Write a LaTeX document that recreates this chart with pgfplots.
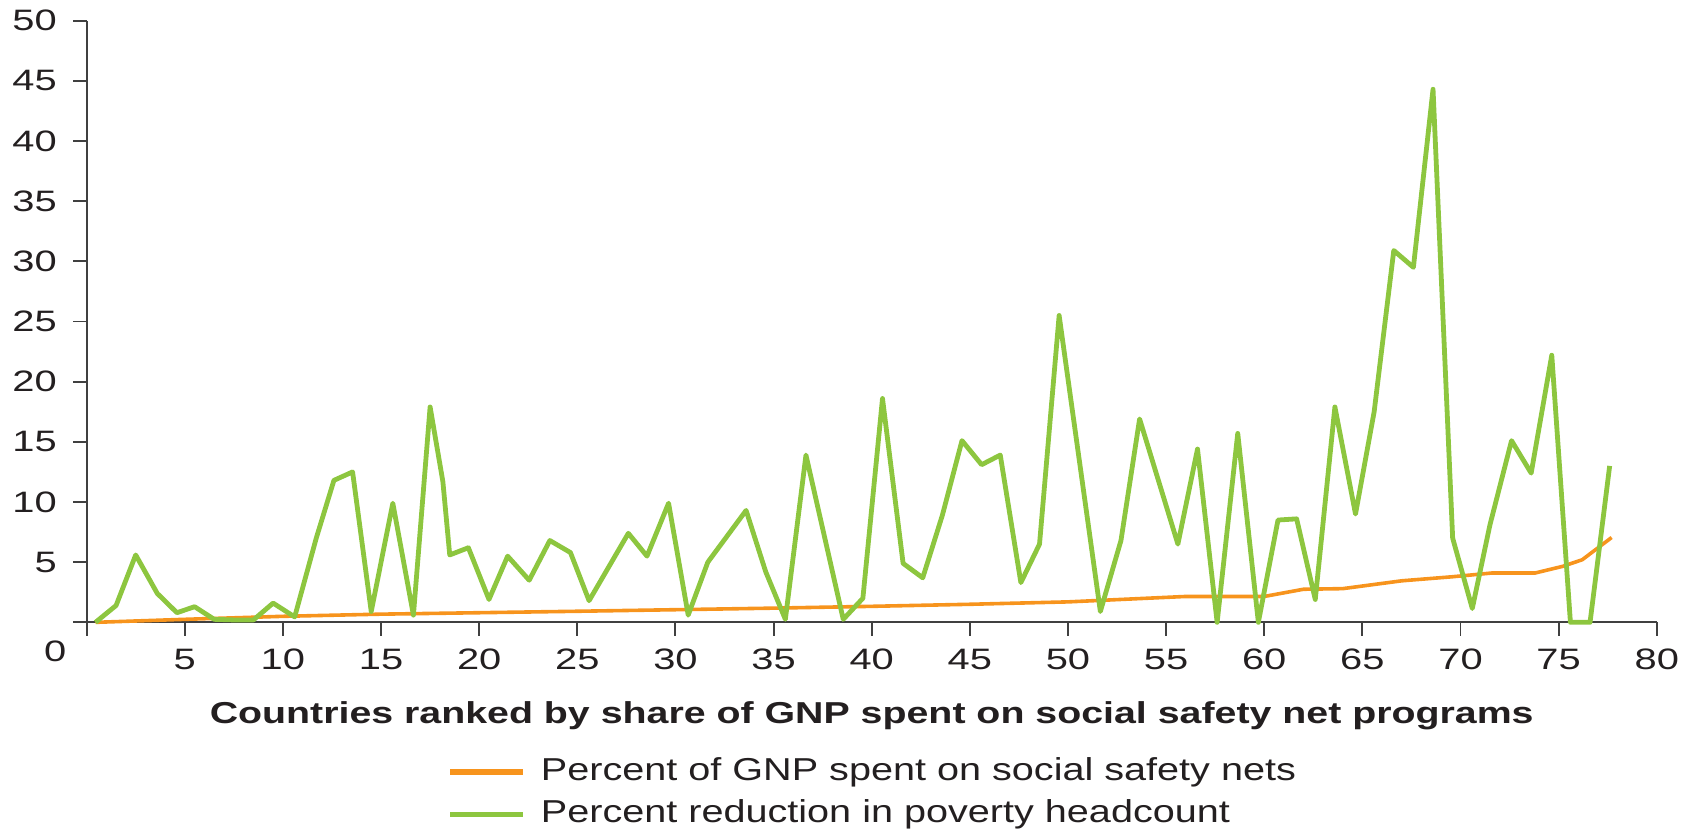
\documentclass[border=0pt]{standalone}
\usepackage{fontspec}
\setmainfont{Liberation Sans}
\usepackage{graphicx}
\usepackage{pgfplots}
\pgfplotsset{compat=1.18}
\definecolor{sgreen}{RGB}{141,198,63}
\definecolor{sorange}{RGB}{247,148,29}
\definecolor{axgray}{RGB}{64,64,64}
\definecolor{txt}{RGB}{35,31,32}
\newcommand\wt[1]{\scalebox{1.35}[1]{#1}}
\newcommand\wl[1]{\scalebox{1.3}[1]{#1}}
\newcommand\wg[1]{\scalebox{1.25}[1]{#1}}
\begin{document}
\begin{tikzpicture}
\begin{axis}[
  scale only axis, width=654.2pt, height=250.7pt,
  xmin=0, xmax=80, ymin=0, ymax=50,
  clip=false,
  axis lines*=left,
  axis line style={line width=0.8pt, axgray},
  tick style={line width=0.8pt, axgray},
  tick align=outside, major tick length=5.5pt,
  xtick={0,5,...,80}, ytick={0,5,...,50},
  xticklabels={{},\wt{5},\wt{10},\wt{15},\wt{20},\wt{25},\wt{30},\wt{35},\wt{40},\wt{45},\wt{50},\wt{55},\wt{60},\wt{65},\wt{70},\wt{75},\wt{80}},
  yticklabels={{},\wt{5},\wt{10},\wt{15},\wt{20},\wt{25},\wt{30},\wt{35},\wt{40},\wt{45},\wt{50}},
  ticklabel style={font=\fontsize{12.3}{14}\selectfont, text=txt, inner sep=0pt},
  xticklabel style={anchor=north},
  yticklabel style={anchor=east},
  xticklabel shift=5.5pt,
  yticklabel shift=6.75pt,
  xlabel={\wl{Countries ranked by share of GNP spent on social safety net programs}},
  xlabel style={font=\fontsize{12.6}{15}\selectfont\bfseries, text=txt, at={(axis description cs:0.5,0)}, anchor=base, yshift=-42.3pt, inner sep=0pt},
  legend style={draw=none, fill=none, at={(axis description cs:0.5,0)}, anchor=north, yshift=-56.0pt,
    inner sep=0pt, font=\fontsize{13.2}{16}\selectfont, text=txt, column sep=6.25pt, row sep=5.2pt,
    nodes={inner sep=0pt, text height=9.6pt, text depth=2.8pt}},
  legend cell align=left,
  legend image code/.code={\draw[#1, line width=2.3pt] (0pt,0pt) -- (30.4pt,0pt);},
]
\addplot[sorange, line width=1.5pt, line join=round] coordinates {
(0.45,0) (5,0.25) (10,0.5) (15,0.68) (20,0.8) (25,0.92) (30,1.05) (35,1.18) (40,1.33) (45,1.5) (50,1.7) (52,1.85) (56,2.15) (60,2.15) (62,2.75) (64,2.8) (67,3.45) (69.6,3.79) (71.6,4.1) (73.8,4.1) (75.2,4.65) (76.2,5.2) (77.7,7.05)
};
\addlegendentry{\wg{Percent of GNP spent on social safety nets}}
\addplot[sgreen, line width=2.0pt, line join=round] coordinates {
(0.45,0) (1.5,1.4) (2.5,5.6) (3.6,2.4) (4.6,0.8) (5.5,1.3) (6.5,0.25) (7.5,0.2) (8.5,0.2) (9.5,1.6)
(10.6,0.45) (11.7,7.0) (12.6,11.8) (13.55,12.5) (14.5,0.9) (15.6,9.9) (16.65,0.6) (17.5,17.9) (18.15,11.7) (18.5,5.6)
(19.45,6.2) (20.5,1.9) (21.45,5.5) (22.55,3.5) (23.6,6.8) (24.65,5.8) (25.6,1.8) (27.6,7.4) (28.55,5.5) (29.65,9.9)
(30.65,0.6) (31.65,5.0) (33.6,9.3) (34.6,4.2) (35.6,0.25) (36.65,13.9) (38.55,0.25) (39.55,2.0) (40.55,18.6) (41.6,4.9)
(42.6,3.7) (43.6,8.9) (44.6,15.1) (45.6,13.1) (46.55,13.9) (47.6,3.3) (48.55,6.5) (49.55,25.5) (51.65,0.9) (52.7,6.8)
(53.65,16.9) (55.6,6.5) (56.6,14.4) (57.6,0) (58.65,15.7) (59.7,0) (60.7,8.5) (61.65,8.6) (62.6,1.9) (63.6,17.9)
(64.65,9.0) (65.6,17.5) (66.6,30.9) (67.6,29.5) (68.6,44.3) (69.6,7.0) (70.6,1.15) (71.5,8.1) (72.6,15.1) (73.6,12.4)
(74.65,22.2) (75.6,0) (76.6,0) (77.6,13.0)
};
\addlegendentry{\wg{Percent reduction in poverty headcount}}
\node[font=\fontsize{12.3}{14}\selectfont, text=txt, inner sep=0pt, anchor=east] at (axis cs:0,0) [xshift=-8.3pt, yshift=-11.9pt] {\wt{0}};
\coordinate (bl) at (rel axis cs:0,0);
\coordinate (tr) at (rel axis cs:1,1);
\end{axis}
\pgfresetboundingbox
\path[use as bounding box] ([shift={(-36.1pt,-85.7pt)}]bl) rectangle ([shift={(15.1pt,8.6pt)}]tr);
\end{tikzpicture}
\end{document}
